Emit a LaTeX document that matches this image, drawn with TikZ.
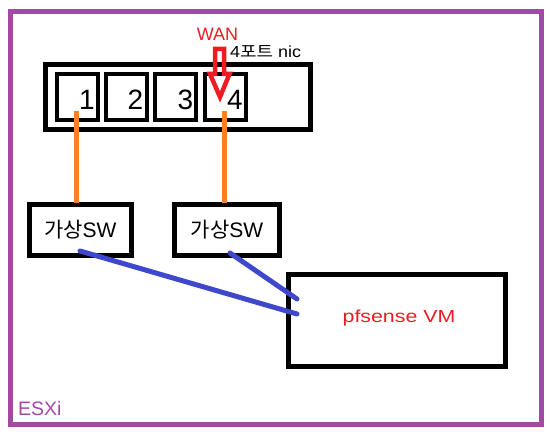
\documentclass[tikz,border=0pt]{standalone}
\usepackage{fontspec}
\usepackage{graphicx}
\setmainfont{Liberation Sans}
\newfontfamily\kr{Noto Sans CJK KR}
\definecolor{esxpurple}{HTML}{A349A4}
\definecolor{wanred}{HTML}{ED1C24}
\definecolor{linkorange}{HTML}{FF7F27}
\definecolor{linkblue}{HTML}{3F48CC}
\tikzset{
  boxnode/.style={draw=black, line width=5pt, fill=none, inner sep=0pt},
  portbox/.style={draw=black, line width=4pt, inner sep=0pt, minimum width=41pt, minimum height=46pt},
  digit/.style={inner sep=0pt, anchor=base, font=\fontsize{28}{30}\selectfont},
  swbox/.style={boxnode, minimum height=51pt, font=\fontsize{21}{23}\selectfont},
  orangelink/.style={draw=linkorange, line width=5pt},
  bluelink/.style={draw=linkblue, line width=5pt, line cap=round},
  plain/.style={inner sep=0pt}
}
\begin{document}
\begin{tikzpicture}[x=1pt, y=-1pt]
\useasboundingbox (0,0) rectangle (550,438);
% ESXi frame
\draw[esxpurple, line width=5pt] (10.5,11.5) rectangle (541.5,424.5);
\node[plain, anchor=base west, text=esxpurple, font=\fontsize{19.5}{21}\selectfont] (esxi) at (18,416) {ESXi};
% NIC
\node[boxnode, minimum width=265.5pt, minimum height=65pt] (nic) at (177.75,97) {};
\node[portbox] (p1) at (77.5,97) {};
\node[portbox] (p2) at (126.5,97) {};
\node[portbox] (p3) at (175.5,97) {};
\node[portbox] (p4) at (225.5,97) {};
\node[digit] (d1) at (87,110) {1};
\node[digit] (d2) at (135.5,110) {2};
\node[digit] (d3) at (185.5,110) {3};
\node[digit] (d4) at (235,110) {4};
\node[plain, anchor=base west, font=\fontsize{16}{18}\selectfont] (niclabel) at (230,58) {\scalebox{1.12}[1]{4{\kr 포트} nic}};
\node[plain, anchor=base, text=wanred, font=\fontsize{18}{20}\selectfont] (wan) at (217.5,41) {WAN};
% WAN arrow
\draw[wanred, line width=4.5pt, line join=miter] (215,49) -- (224,49) -- (224,74) -- (229.5,74) -- (220,97) -- (210,74) -- (215,74) -- cycle;
% virtual switches
\node[swbox, minimum width=102.5pt] (sw1) at (80.25,230) {{\kr 가상}SW};
\node[swbox, minimum width=105pt] (sw2) at (227,230) {{\kr 가상}SW};
% pfsense
\node[boxnode, minimum width=217pt, minimum height=92pt] (pf) at (397,320.5) {};
\node[plain, text=wanred, font=\fontsize{17.5}{19}\selectfont] (pflabel) at (399,318) {\scalebox{1.22}[1]{pfsense VM}};
% links
\coordinate (o1a) at (76.5,111);
\coordinate (o1b) at (76.5,203);
\coordinate (o4a) at (224,111);
\coordinate (o4b) at (224,203);
\draw[orangelink] (o1a) -- (o1b);
\draw[orangelink] (o4a) -- (o4b);
\coordinate (b1a) at (80,251);
\coordinate (b1b) at (297,314);
\coordinate (b2a) at (230,253);
\coordinate (b2b) at (297,299);
\draw[bluelink] (b1a) -- (b1b);
\draw[bluelink] (b2a) -- (b2b);
\end{tikzpicture}
\end{document}
